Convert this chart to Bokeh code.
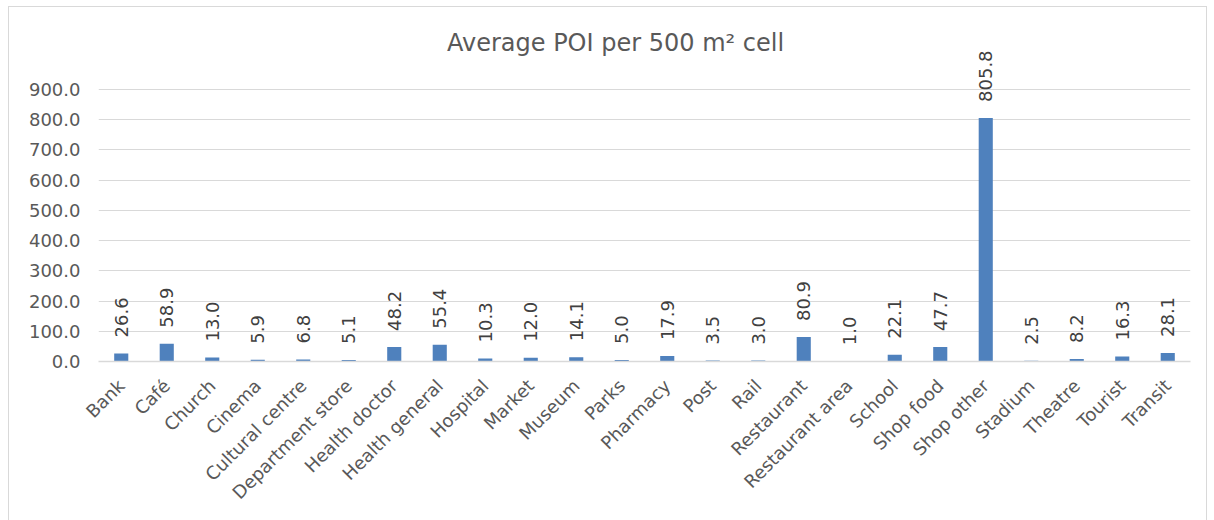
from math import pi
from bokeh.plotting import figure
from bokeh.models import (ColumnDataSource, LabelSet, Label, FixedTicker,
                          NumeralTickFormatter, Range1d, FactorRange)
from bokeh.core.properties import value
from bokeh.embed import file_html
from bokeh.resources import INLINE

categories = ["Bank", "Café", "Church", "Cinema", "Cultural centre", "Department store",
              "Health doctor", "Health general", "Hospital", "Market", "Museum", "Parks",
              "Pharmacy", "Post", "Rail", "Restaurant", "Restaurant area", "School",
              "Shop food", "Shop other", "Stadium", "Theatre", "Tourist", "Transit"]
values = [26.6, 58.9, 13.0, 5.9, 6.8, 5.1, 48.2, 55.4, 10.3, 12.0, 14.1, 5.0,
          17.9, 3.5, 3.0, 80.9, 1.0, 22.1, 47.7, 805.8, 2.5, 8.2, 16.3, 28.1]
labels = [f"{v:.1f}" for v in values]
y_ticks = [0, 100, 200, 300, 400, 500, 600, 700, 800, 900]
title_text = "Average POI per 500 m\u00b2 cell"

FONT = "DejaVu Sans"
GREY = "#595959"

src = ColumnDataSource(dict(cat=categories, val=values, lab=labels))

# frame: 900 at the top gridline, extra headroom above for labels and title
Y_TOP = 900 * 336 / 272

p = figure(width=1199, height=540, output_backend="svg", toolbar_location=None,
           x_range=FactorRange(*categories, range_padding=0),
           y_range=Range1d(0, Y_TOP),
           min_border_left=89, min_border_right=18, min_border_top=18, min_border_bottom=186)
p.styles = {"border": "1px solid #d9d9d9", "margin-left": "8px", "margin-top": "6px"}

p.vbar(x="cat", top="val", width=0.31, source=src, fill_color="#4F81BD", line_color=None)

p.add_layout(LabelSet(x="cat", y="val", text="lab", source=src, angle=pi / 2,
                      text_align="left", text_baseline="middle", y_offset=16,
                      text_font=value(FONT), text_font_size=value("18px"),
                      text_color="#404040"))

p.add_layout(Label(x=517, x_units="screen", y=1055, y_units="data", text=title_text,
                   text_align="center", text_baseline="middle",
                   text_font=FONT, text_font_size="24px", text_color=GREY))

p.outline_line_color = None
p.xgrid.grid_line_color = None
p.ygrid.grid_line_color = "#d9d9d9"
p.ygrid.grid_line_width = 1

p.yaxis.ticker = FixedTicker(ticks=y_ticks)
p.ygrid.ticker = FixedTicker(ticks=y_ticks)
p.yaxis.formatter = NumeralTickFormatter(format="0.0")
p.yaxis.axis_line_color = None
p.yaxis.major_tick_line_color = None
p.yaxis.minor_tick_line_color = None
p.yaxis.major_tick_out = 0
p.yaxis.major_label_standoff = 18
p.yaxis.major_label_text_font = FONT
p.yaxis.major_label_text_font_size = "18px"
p.yaxis.major_label_text_color = GREY

p.xaxis.axis_line_color = "#d9d9d9"
p.xaxis.axis_line_width = 1.5
p.xaxis.major_tick_line_color = None
p.xaxis.major_tick_out = 0
p.xaxis.major_label_standoff = 21
p.xaxis.major_label_orientation = pi / 4
p.xaxis.major_label_text_font = FONT
p.xaxis.major_label_text_font_size = "18px"
p.xaxis.major_label_text_color = GREY

open("out.html", "w").write(file_html(p, INLINE))
